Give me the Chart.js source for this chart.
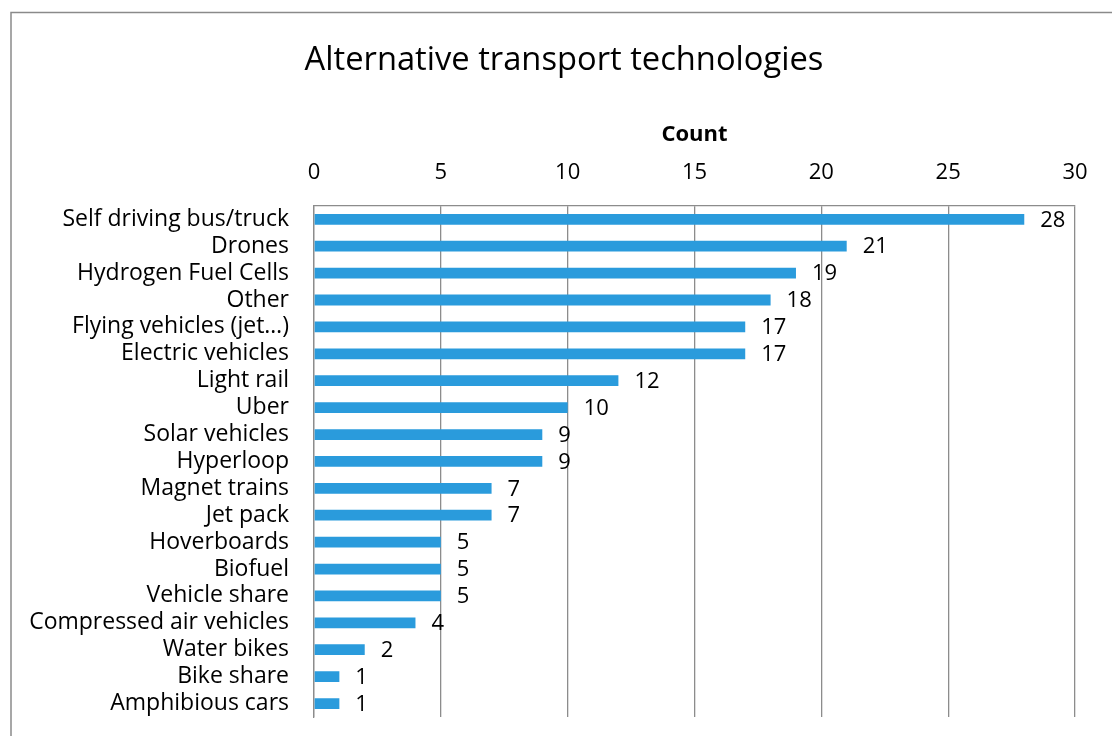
<!DOCTYPE html>
<html>
<head>
<meta charset="utf-8">
<script src="https://cdn.jsdelivr.net/npm/chart.js@4"></script>
<style>
  html, body { margin: 0; padding: 0; background: #fff; }
  #wrap { position: relative; width: 1112px; height: 736px; }
</style>
</head>
<body>
<div id="wrap"><canvas id="c" width="1112" height="736"></canvas></div>
<script>
const chartTitle = "Alternative transport technologies";
const axisTitle = "Count";
const categories = [
  "Self driving bus/truck", "Drones", "Hydrogen Fuel Cells", "Other",
  "Flying vehicles (jet…)", "Electric vehicles", "Light rail", "Uber",
  "Solar vehicles", "Hyperloop", "Magnet trains", "Jet pack", "Hoverboards",
  "Biofuel", "Vehicle share", "Compressed air vehicles", "Water bikes",
  "Bike share", "Amphibious cars"
];
const counts = [28, 21, 19, 18, 17, 17, 12, 10, 9, 9, 7, 7, 5, 5, 5, 4, 2, 1, 1];
const axisMin = 0, axisMax = 30, axisStep = 5;

const FONT = "'Open Sans', sans-serif";
const GRID = '#8c8c8c';

const framePlugin = {
  id: 'frame',
  afterLayout(chart) {
    // centre the chart title a little to the right, as in the source
    if (chart.titleBlock) { chart.titleBlock.left += 41; }
  },
  beforeDraw(chart) {
    const ctx = chart.ctx;
    ctx.save();
    ctx.fillStyle = '#fff';
    ctx.fillRect(0, 0, chart.width, chart.height);
    ctx.strokeStyle = '#8a8a8a';
    ctx.lineWidth = 1.5;
    ctx.strokeRect(11, 12.5, 1200, 800);
    ctx.restore();
  }
};

const valueLabels = {
  id: 'valueLabels',
  afterDatasetsDraw(chart) {
    const ctx = chart.ctx;
    const meta = chart.getDatasetMeta(0);
    ctx.save();
    ctx.font = "22px " + FONT;
    ctx.fillStyle = '#000';
    ctx.textAlign = 'left';
    ctx.textBaseline = 'middle';
    meta.data.forEach((bar, i) => {
      ctx.fillText(String(counts[i]), bar.x + 16, bar.y + 1);
    });
    ctx.restore();
  }
};

new Chart(document.getElementById('c'), {
  type: 'bar',
  data: {
    labels: categories,
    datasets: [{
      data: counts,
      backgroundColor: '#2A9BDC',
      borderWidth: 0,
      barPercentage: 0.4,
      categoryPercentage: 1.0
    }]
  },
  options: {
    indexAxis: 'y',
    responsive: false,
    animation: false,
    layout: { padding: { top: 12, left: 12, right: 37, bottom: 19 } },
    plugins: {
      legend: { display: false },
      tooltip: { enabled: false },
      title: {
        display: true,
        text: chartTitle,
        color: '#000',
        font: { family: FONT, size: 32.7, weight: 'normal', lineHeight: 1.2 },
        padding: { top: 28.9, bottom: 10 }
      }
    },
    scales: {
      x: {
        position: 'top',
        min: axisMin, max: axisMax,
        afterFit(scale) { scale.height = 206 - 90.3; },
        ticks: {
          stepSize: axisStep,
          color: '#000',
          font: { family: FONT, size: 22 },
          padding: 19.5
        },
        grid: { color: GRID, lineWidth: 1.3, drawTicks: false },
        border: { display: true, color: GRID, width: 1.3 },
        title: {
          display: true,
          text: axisTitle,
          color: '#000',
          font: { family: FONT, size: 22, weight: 'bold', lineHeight: 1.2 },
          padding: { top: 31.2, bottom: 0 }
        }
      },
      y: {
        afterFit(scale) {
          scale.width = 314 - 12;
          scale.paddingTop = 0;
          scale.paddingBottom = 0;
        },
        ticks: {
          color: '#000',
          font: { family: FONT, size: 23 },
          padding: 25,
          autoSkip: false
        },
        grid: { display: false, drawTicks: false },
        border: { display: true, color: GRID, width: 1.3 }
      }
    }
  },
  plugins: [framePlugin, valueLabels]
});
</script>
</body>
</html>
